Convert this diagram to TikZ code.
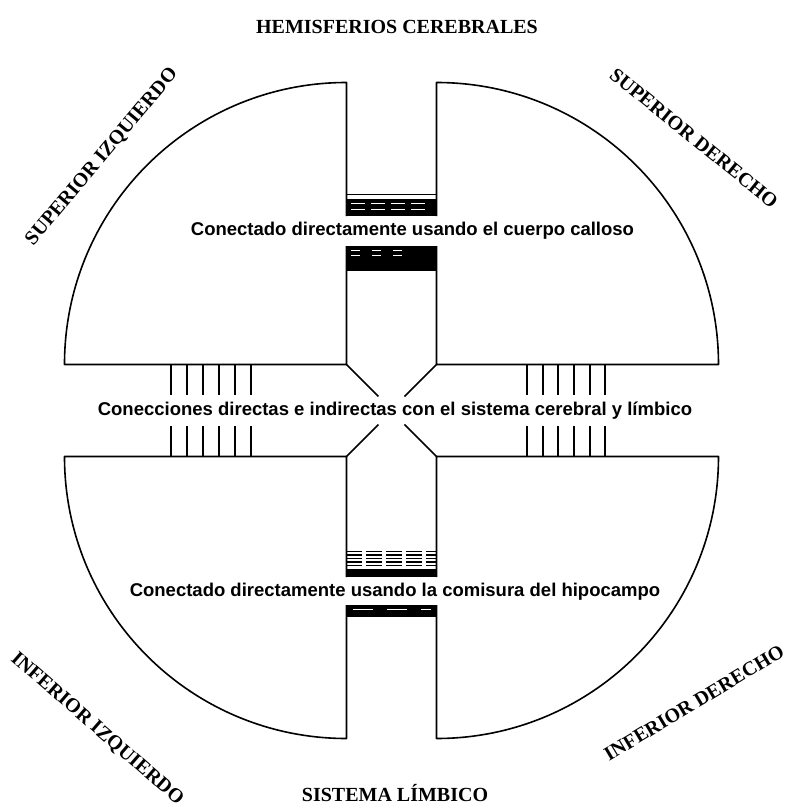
\documentclass[tikz,border=0pt]{standalone}
\usepackage{fontspec}
\setmainfont{Liberation Serif}
\setsansfont{Liberation Sans}
\begin{document}
\begin{tikzpicture}[x=1pt, y=1pt,
  edge/.style={line width=1.6pt, line join=round},
  fibre/.style={line width=2.4pt},
  region/.style={font=\bfseries\fontsize{20}{22}\selectfont, inner sep=0pt},
  caption/.style={font=\sffamily\bfseries\fontsize{18.5}{20}\selectfont, inner sep=1pt}]
  \useasboundingbox (-391.5,-401.5) rectangle (401.5,410.5);

  % the four quarters
  \draw[edge] (-45,194.5) -- (-45,328) arc[start angle=90, end angle=180, radius=282]
    -- (-45,46) -- (-45,164.5);
  \draw[edge] (45,194.5) -- (45,328) arc[start angle=90, end angle=0, radius=282]
    -- (45,46) -- (45,164.5);
  \draw[edge] (-45,-166.5) -- (-45,-46) -- (-327,-46)
    arc[start angle=180, end angle=270, radius=282] -- (-45,-194.5);
  \draw[edge] (45,-166.5) -- (45,-46) -- (327,-46)
    arc[start angle=0, end angle=-90, radius=282] -- (45,-194.5);

  % corners towards the middle
  \foreach \sx/\sy in {-1/1, 1/1, -1/-1, 1/-1}
    \draw[edge] (\sx*45,\sy*46) -- (\sx*13,\sy*14);

  % fibres to the brain stem
  \foreach \x in {-220.5,-204.5,-188.5,-172.5,-156.5,-140.5,
                  135.5,151.5,166.5,182.5,198.5,213.5} {
    \draw[fibre] (\x,46) -- (\x,16);
    \draw[fibre] (\x,-46) -- (\x,-15);
  }

  % corpus callosum
  \draw[line width=0.8pt] (-45,216.5) -- (45,216.5);
  \fill (-45,194.5) rectangle (45,212);
  \foreach \y in {207,201}
    \draw[white, line width=0.9pt, dash pattern=on 14pt off 6pt] (-40,\y) -- (40,\y);
  \fill (-45,139.5) rectangle (45,164.5);
  \foreach \y in {160,155}
    \draw[white, line width=0.9pt, dash pattern=on 9pt off 12pt] (-40,\y) -- (20,\y);

  % hippocampal commissure
  \foreach \y in {-141,-144.5,-148,-151.5,-155}
    \draw[line width=1.2pt, dash pattern=on 16pt off 4pt] (-45,\y) -- (45,\y);
  \fill (-45,-158) rectangle (45,-166.5);
  \fill (-45,-194.5) rectangle (45,-206);
  \draw[white, line width=0.9pt, dash pattern=on 20pt off 14pt] (-38,-199) -- (40,-199);

  % labels
  \node[caption] (callosum) at (21,180) {Conectado directamente usando el cuerpo calloso};
  \node[caption] (stem) at (3.5,0) {Conecciones directas e indirectas con el sistema cerebral y límbico};
  \node[caption] (commissure) at (3.5,-181) {Conectado directamente usando la comisura del hipocampo};

  \node[region] (top) at (5.5,383.5) {HEMISFERIOS CEREBRALES};
  \node[region] (bottom) at (3.5,-382.5) {SISTEMA LÍMBICO};
  \node[region, rotate=50] (ul) at (-289.5,253.5) {SUPERIOR IZQUIERDO};
  \node[region, rotate=-39] (ur) at (302.5,272.5) {SUPERIOR DERECHO};
  \node[region, rotate=-41] (ll) at (-294.5,-318.5) {INFERIOR IZQUIERDO};
  \node[region, rotate=31] (lr) at (302.5,-292.5) {INFERIOR DERECHO};
\end{tikzpicture}
\end{document}
